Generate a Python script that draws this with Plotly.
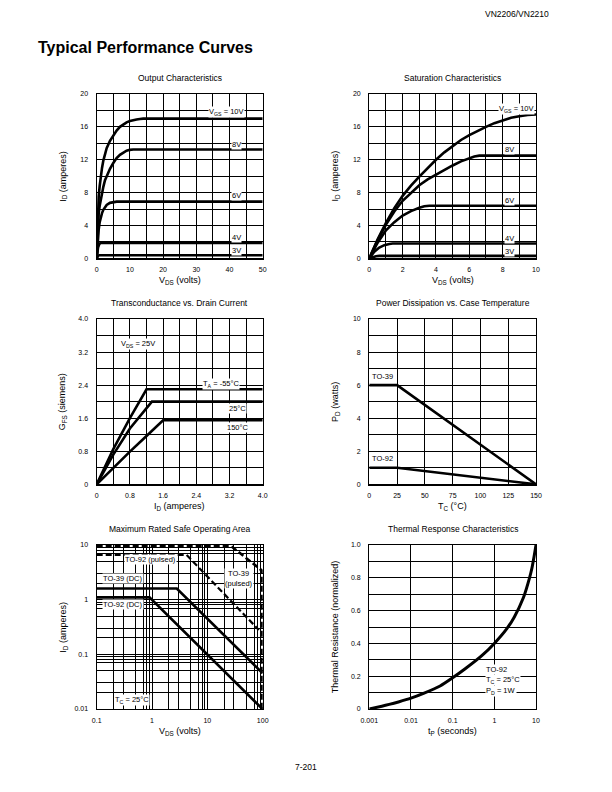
import math
import plotly.graph_objects as go

# ---------------- DATA ----------------
# Output Characteristics (I_D vs V_DS, 0-50 V)
oc_10_x = [0, 0.2, 0.4, 0.6, 0.9, 1.2, 1.6, 2, 2.5, 3, 4, 5, 6, 7, 8, 9, 10, 11, 12, 13, 14, 50]
oc_10_y = [0, 3.2, 5.7, 7.5, 8.8, 9.9, 11.0, 11.9, 12.8, 13.4, 14.3, 15.0, 15.55, 16.0, 16.3, 16.55, 16.7, 16.82, 16.9, 16.96, 17, 17]
oc_8_x = [0, 0.2, 0.4, 0.6, 0.9, 1.2, 1.6, 2, 2.5, 3, 4, 5, 6, 7, 8, 9, 10, 11, 50]
oc_8_y = [0, 2.5, 4.4, 5.5, 6.4, 7.1, 8.0, 8.7, 9.5, 10.0, 10.9, 11.6, 12.2, 12.6, 12.9, 13.1, 13.2, 13.25, 13.25]
oc_6_x = [0, 0.2, 0.4, 0.6, 0.9, 1.2, 1.6, 2, 2.5, 3, 4, 5, 6, 50]
oc_6_y = [0, 1.6, 2.7, 3.5, 4.4, 5.0, 5.5, 5.9, 6.25, 6.5, 6.75, 6.87, 6.9, 6.9]
oc_4_x = [0, 0.2, 0.4, 0.7, 1.0, 1.4, 50]
oc_4_y = [0, 0.8, 1.3, 1.65, 1.82, 1.88, 1.88]
oc_3_x = [0, 0.2, 0.5, 0.8, 50]
oc_3_y = [0, 0.2, 0.32, 0.38, 0.38]

# Saturation Characteristics (I_D vs V_DS, 0-10 V)
sc_10_x = [0, 0.5, 1, 1.5, 2, 2.5, 3, 3.5, 4, 4.5, 5, 5.5, 6, 6.5, 7, 7.5, 8, 8.5, 9, 9.5, 10]
sc_10_y = [0, 2.3, 4.3, 6.1, 7.6, 8.85, 9.95, 11.0, 12.0, 12.9, 13.7, 14.4, 15.0, 15.55, 16.0, 16.45, 16.8, 17.1, 17.3, 17.45, 17.5]
sc_8_x = [0, 0.5, 1, 1.5, 2, 2.5, 3, 3.5, 4, 4.5, 5, 5.5, 6, 6.3, 6.6, 10]
sc_8_y = [0, 2.2, 4.1, 5.7, 7.0, 8.0, 8.9, 9.6, 10.2, 10.75, 11.3, 11.8, 12.2, 12.4, 12.5, 12.5]
sc_6_x = [0, 0.5, 1, 1.5, 2, 2.5, 3, 3.3, 3.6, 10]
sc_6_y = [0, 1.9, 3.4, 4.4, 5.2, 5.75, 6.15, 6.33, 6.4, 6.4]
sc_4_x = [0, 0.3, 0.6, 0.9, 1.2, 1.4, 10]
sc_4_y = [0, 0.8, 1.3, 1.6, 1.75, 1.8, 1.8]
sc_3_x = [0, 0.2, 0.4, 0.6, 10]
sc_3_y = [0, 0.15, 0.25, 0.3, 0.3]

# Transconductance vs Drain Current
tc_m55_x = [0, 0.4, 0.8, 1.2, 4.0]
tc_m55_y = [0, 0.85, 1.6, 2.3, 2.3]
tc_25_x = [0, 0.4, 0.8, 1.33, 4.0]
tc_25_y = [0, 0.72, 1.35, 2.0, 2.0]
tc_150_x = [0, 0.4, 0.8, 1.2, 1.6, 4.0]
tc_150_y = [0, 0.4, 0.79, 1.17, 1.55, 1.55]

# Power Dissipation vs Case Temperature
pd_to39_x = [0, 25, 150]
pd_to39_y = [6, 6, 0]
pd_to92_x = [0, 25, 150]
pd_to92_y = [1, 1, 0]

# Maximum Rated Safe Operating Area
soa_to39dc_x = [0.1, 2.8, 100]
soa_to39dc_y = [1.6, 1.6, 0.045]
soa_to92dc_x = [0.1, 0.9, 100]
soa_to92dc_y = [1.1, 1.1, 0.0099]
soa_to92p_x = [0.1, 4.2, 85]
soa_to92p_y = [6.6, 6.6, 0.28]
soa_to39p_x = [0.1, 27, 97, 97]
soa_to39p_y = [9.5, 9.5, 3.4, 0.01]

# Thermal Response Characteristics
tr_x = [0.001, 0.002, 0.003, 0.005, 0.01, 0.02, 0.05, 0.1, 0.2, 0.5, 1, 2, 3, 5, 7, 8, 9, 10]
tr_y = [0, 0.017, 0.028, 0.043, 0.066, 0.095, 0.14, 0.19, 0.245, 0.325, 0.40, 0.49, 0.56, 0.68, 0.80, 0.86, 0.93, 1.0]

# Tick values / labels
t1x_vals = [0, 10, 20, 30, 40, 50]
t12y_vals = [0, 4, 8, 12, 16, 20]
t2x_vals = [0, 2, 4, 6, 8, 10]
t3_vals = [0, 0.8, 1.6, 2.4, 3.2, 4.0]
t3_text = ["0", "0.8", "1.6", "2.4", "3.2", "4.0"]
t4x_vals = [0, 25, 50, 75, 100, 125, 150]
t4y_vals = [0, 2, 4, 6, 8, 10]
t5x_vals = [0.1, 1, 10, 100]
t5x_text = ["0.1", "1", "10", "100"]
t5y_vals = [0.01, 0.1, 1, 10]
t5y_text = ["0.01", "0.1", "1", "10"]
t6x_vals = [0.001, 0.01, 0.1, 1, 10]
t6x_text = ["0.001", "0.01", "0.1", "1", "10"]
t6y_vals = [0, 0.2, 0.4, 0.6, 0.8, 1.0]
t6y_text = ["0", "0.2", "0.4", "0.6", "0.8", "1.0"]
log_minor_x = [0.2, 0.3, 0.5, 0.7, 0.8, 0.9, 2, 3, 5, 7, 8, 9, 20, 30, 50, 70, 80, 90]
log_minor_y = [0.02, 0.03, 0.05, 0.07, 0.08, 0.09, 0.2, 0.3, 0.5, 0.7, 0.8, 0.9, 2, 3, 5, 7, 8, 9]

# ---------------- FIGURE ----------------
W, H = 612, 792
FONT = "Liberation Sans, Arial, Helvetica, sans-serif"

def px(x):
    return x / W

def py(y):
    return 1 - y / H

fig = go.Figure()

def line(x, y, ax, dash="solid", width=2.6, shape="linear"):
    fig.add_trace(go.Scatter(
        x=x, y=y, mode="lines", showlegend=False, hoverinfo="skip",
        line=dict(color="black", width=width, dash=dash, shape=shape, smoothing=0.5),
        xaxis="x" + ax, yaxis="y" + ax))

for xs, ys in [(oc_10_x, oc_10_y), (oc_8_x, oc_8_y), (oc_6_x, oc_6_y), (oc_4_x, oc_4_y), (oc_3_x, oc_3_y)]:
    line(xs, ys, "")
for xs, ys in [(sc_10_x, sc_10_y), (sc_8_x, sc_8_y), (sc_6_x, sc_6_y), (sc_4_x, sc_4_y), (sc_3_x, sc_3_y)]:
    line(xs, ys, "2")
for xs, ys in [(tc_m55_x, tc_m55_y), (tc_25_x, tc_25_y), (tc_150_x, tc_150_y)]:
    line(xs, ys, "3")
for xs, ys in [(pd_to39_x, pd_to39_y), (pd_to92_x, pd_to92_y)]:
    line(xs, ys, "4")
line(soa_to39dc_x, soa_to39dc_y, "5")
line(soa_to92dc_x, soa_to92dc_y, "5")
line(soa_to92p_x, soa_to92p_y, "5", dash="6px,3px", width=2.2)
line(soa_to39p_x, soa_to39p_y, "5", dash="6px,3px", width=2.6)
line(tr_x, tr_y, "6", width=3, shape="spline")

# plot-area pixel boxes (left, right, top, bottom)
boxes = {
    "": (96.7, 262.7, 94, 258.3),
    "2": (369.3, 536, 94, 258.3),
    "3": (96.7, 262.7, 319, 484.3),
    "4": (369.3, 536, 319, 484.3),
    "5": (96.7, 262.7, 545, 709),
    "6": (369.3, 536, 545, 709),
}

def axis(ax, which, rng, vals, text=None, typ="linear", minor=None, mdtick=None):
    l, r, t, b = boxes[ax]
    d = dict(
        type=typ, range=rng, tickmode="array", tickvals=vals,
        showline=True, mirror=True, linecolor="black", linewidth=1.2,
        showgrid=True, gridcolor="black", gridwidth=1, zeroline=False,
        ticks="", tickfont=dict(size=7, color="black", family=FONT),
        fixedrange=True, layer="below traces", automargin=False,
    )
    if text is not None:
        d["ticktext"] = text
    if which == "x":
        d["domain"] = [px(l), px(r)]
        d["anchor"] = "y" + ax
        d["ticklabelstandoff"] = 4
    else:
        d["domain"] = [py(b), py(t)]
        d["anchor"] = "x" + ax
        d["ticklabelstandoff"] = 6
    if minor is not None:
        d["minor"] = dict(tickmode="array", tickvals=minor, showgrid=True, gridcolor="black", gridwidth=1, ticks="")
    if mdtick is not None:
        d["minor"] = dict(dtick=mdtick, tick0=0, showgrid=True, gridcolor="black", gridwidth=1, ticks="")
    return d

lay = {}
lay["xaxis"] = axis("", "x", [0, 50], t1x_vals, mdtick=5)
lay["yaxis"] = axis("", "y", [0, 20], t12y_vals, mdtick=2)
lay["xaxis2"] = axis("2", "x", [0, 10], t2x_vals, mdtick=1)
lay["yaxis2"] = axis("2", "y", [0, 20], t12y_vals, mdtick=2)
lay["xaxis3"] = axis("3", "x", [0, 4], t3_vals, t3_text, mdtick=0.4)
lay["yaxis3"] = axis("3", "y", [0, 4], t3_vals, t3_text, mdtick=0.4)
lay["xaxis4"] = axis("4", "x", [0, 150], t4x_vals)
lay["yaxis4"] = axis("4", "y", [0, 10], t4y_vals, mdtick=1)
lay["xaxis5"] = axis("5", "x", [-1, 2], t5x_vals, t5x_text, typ="log", minor=log_minor_x)
lay["yaxis5"] = axis("5", "y", [-2, 1], t5y_vals, t5y_text, typ="log", minor=log_minor_y)
lay["xaxis6"] = axis("6", "x", [-3, 1], t6x_vals, t6x_text, typ="log")
lay["yaxis6"] = axis("6", "y", [0, 1], t6y_vals, t6y_text, mdtick=0.1)

fig.update_layout(
    width=W, height=H, margin=dict(l=0, r=0, t=0, b=0, pad=0),
    paper_bgcolor="white", plot_bgcolor="white",
    font=dict(family=FONT, color="black"),
    showlegend=False, **lay)

anns = []

def ptext(x, y, text, size=9, xanchor="center", **kw):
    anns.append(dict(xref="paper", yref="paper", x=px(x), y=py(y), text=text,
                     showarrow=False, xanchor=xanchor, yanchor="middle",
                     font=dict(size=size, family=FONT, color="black"), **kw))

# page texts
ptext(551, 14, "VN2206/VN2210", size=8.5, xanchor="right")
ptext(36, 48, "<b>Typical Performance Curves</b>", size=16, xanchor="left")
ptext(306, 767, "7-201", size=8.5)

# subplot titles
titles = [("", "Output Characteristics"), ("2", "Saturation Characteristics"),
          ("3", "Transconductance vs. Drain Current"), ("4", "Power Dissipation vs. Case Temperature"),
          ("5", "Maximum Rated Safe Operating Area"), ("6", "Thermal Response Characteristics")]
for ax, t in titles:
    l, r, tp, b = boxes[ax]
    ptext((l + r) / 2, tp - 16.5, t, size=8.5)

# axis titles
xtitles = [("", "V<sub>DS</sub> (volts)"), ("2", "V<sub>DS</sub> (volts)"),
           ("3", "I<sub>D</sub> (amperes)"), ("4", "T<sub>C</sub> (°C)"),
           ("5", "V<sub>DS</sub> (volts)"), ("6", "t<sub>P</sub> (seconds)")]
for ax, t in xtitles:
    l, r, tp, b = boxes[ax]
    ptext((l + r) / 2, b + 22, t, size=9)
ytitles = [("", "I<sub>D</sub> (amperes)"), ("2", "I<sub>D</sub> (amperes)"),
           ("3", "G<sub>FS</sub> (siemens)"), ("4", "P<sub>D</sub> (watts)"),
           ("5", "I<sub>D</sub> (amperes)"), ("6", "Thermal Resistance (normalized)")]
for ax, t in ytitles:
    l, r, tp, b = boxes[ax]
    ptext(l - 34, (tp + b) / 2, t, size=9, textangle=-90)

def dtext(ax, x, y, text, xanchor="center", logx=False, logy=False):
    xv = math.log10(x) if logx else x
    yv = math.log10(y) if logy else y
    anns.append(dict(xref="x" + ax, yref="y" + ax, x=xv, y=yv, text=text, showarrow=False,
                     xanchor=xanchor, yanchor="middle", bgcolor="white", borderpad=0,
                     font=dict(size=7.5, family=FONT, color="black")))

# plot 1 labels
dtext("", 39, 17.8, "V<sub>GS</sub> = 10V")
dtext("", 42, 13.9, "8V")
dtext("", 42, 7.6, "6V")
dtext("", 42, 2.5, "4V")
dtext("", 42, 1.0, "3V")
# plot 2 labels
dtext("2", 8.8, 18.2, "V<sub>GS</sub> = 10V")
dtext("2", 8.4, 13.3, "8V")
dtext("2", 8.4, 7.0, "6V")
dtext("2", 8.4, 2.4, "4V")
dtext("2", 8.4, 0.85, "3V")
# plot 3 labels
dtext("3", 1.0, 3.4, "V<sub>DS</sub> = 25V")
dtext("3", 3.0, 2.42, "T<sub>A</sub> = -55°C")
dtext("3", 3.4, 1.84, "25°C")
dtext("3", 3.4, 1.38, "150°C")
# plot 4 labels
dtext("4", 12, 6.55, "TO-39")
dtext("4", 12, 1.55, "TO-92")
# plot 5 labels
dtext("5", 0.92, 5.4, "TO-92 (pulsed)", logx=True, logy=True)
dtext("5", 38, 2.4, "TO-39<br>(pulsed)", logx=True, logy=True)
dtext("5", 0.3, 2.45, "TO-39 (DC)", logx=True, logy=True)
dtext("5", 0.3, 0.8, "TO-92 (DC)", logx=True, logy=True)
dtext("5", 0.43, 0.0145, "T<sub>C</sub> = 25°C", logx=True, logy=True)
# plot 6 labels
dtext("6", 0.6, 0.24, "TO-92", xanchor="left", logx=True)
dtext("6", 0.6, 0.175, "T<sub>C</sub> = 25°C", xanchor="left", logx=True)
dtext("6", 0.6, 0.11, "P<sub>D</sub> = 1W", xanchor="left", logx=True)

fig.update_layout(annotations=anns)
fig.write_html("out.html", config={"displayModeBar": False, "staticPlot": True},
               post_script="document.body.style.margin='0';document.body.style.padding='0';document.documentElement.style.overflow='hidden';")
